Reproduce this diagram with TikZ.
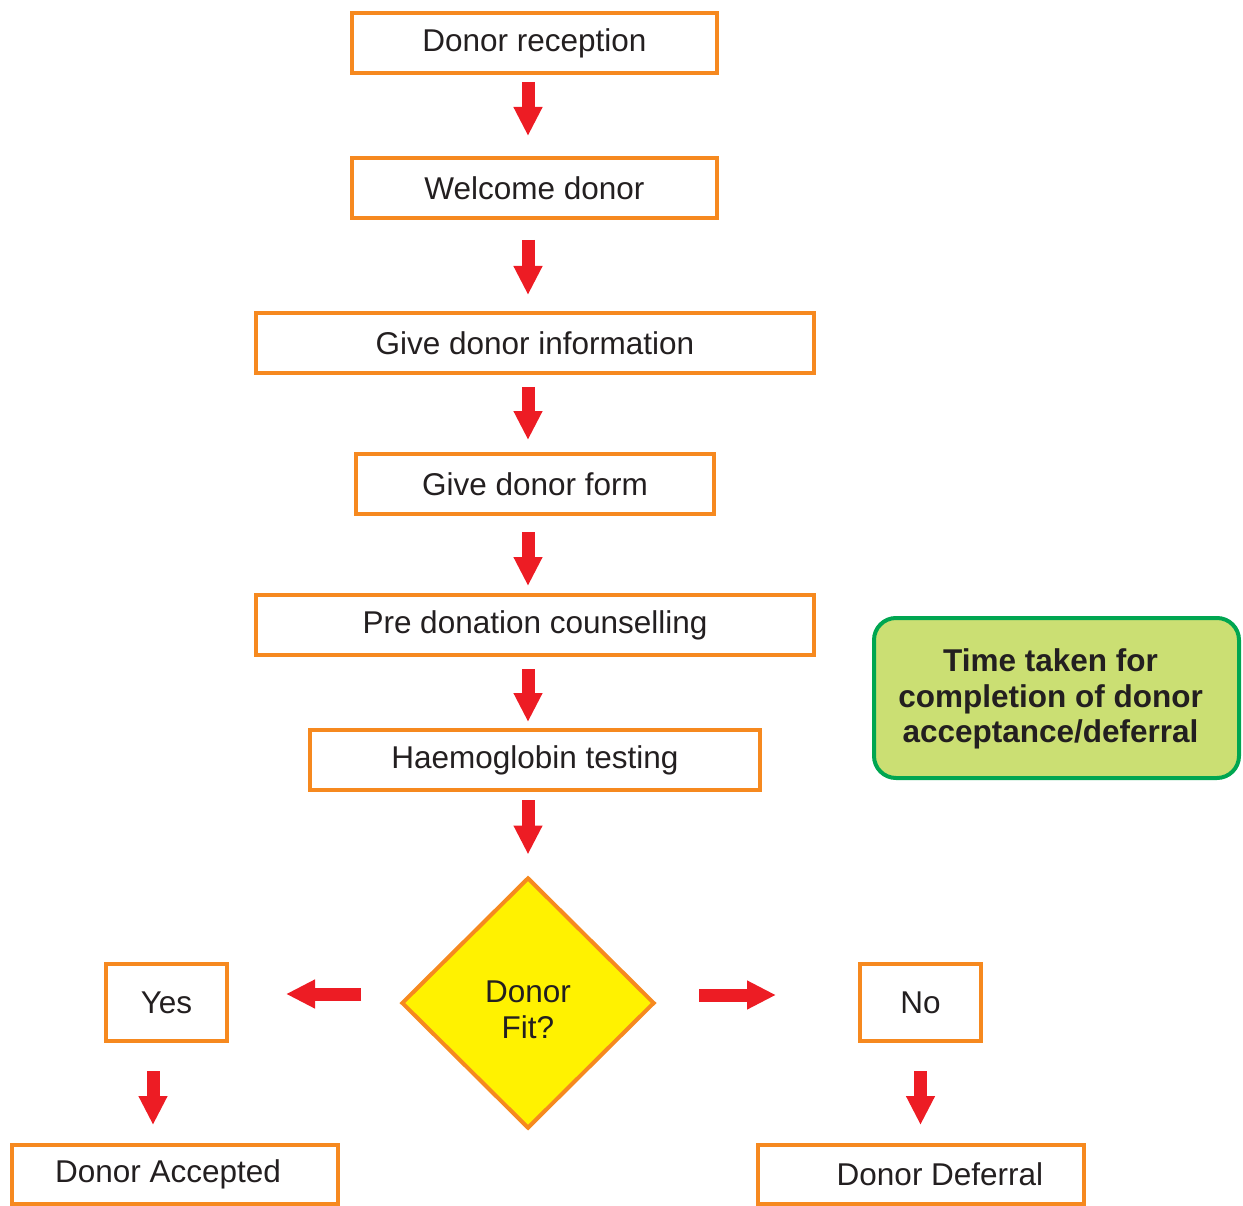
\documentclass[tikz,border=0pt]{standalone}
\usepackage{fontspec}
\setmainfont{Liberation Sans}
\usetikzlibrary{arrows.meta,shapes.geometric,calc}
\definecolor{borange}{HTML}{F6891F}
\definecolor{ared}{HTML}{ED1C24}
\definecolor{dyellow}{HTML}{FFF200}
\definecolor{ggreen}{HTML}{00A651}
\definecolor{gfill}{HTML}{CBDF73}
\definecolor{tink}{HTML}{231F20}
\begin{document}
\begin{tikzpicture}[x=1pt,y=-1pt,
  every node/.style={font=\fontsize{31.5}{35.5}\selectfont, text=tink},
  box/.style={draw=borange, line width=4pt, fill=white, inner sep=0pt, minimum height=60pt},
  flow/.style={draw=ared, line width=13pt, -{Triangle[width=27pt,length=29pt]}},
]
\useasboundingbox (0,0) rectangle (1243,1206);

\node[box, minimum width=365pt] (n1) at (534.5,43) {Donor reception};
\node[box, minimum width=365pt] (n2) at (534.5,188) {Welcome donor};
\node[box, minimum width=558pt] (n3) at (535,343) {Give donor information};
\node[box, minimum width=358pt] (n4) at (535,484) {Give donor form};
\node[box, minimum width=558pt] (n5) at (535,625) {Pre donation counselling};
\node[box, minimum width=450pt] (n6) at (535,760) {Haemoglobin testing};

\node[draw=borange, line width=4pt, fill=dyellow, shape=diamond, minimum width=253pt, minimum height=251pt, inner sep=0pt,
  label={[align=center, yshift=-7pt, inner sep=0pt]center:Donor\\Fit?}] (d) at (528,1003) {};

\node[box, minimum width=121pt, minimum height=77pt] (yes) at (166.5,1002.5) {Yes};
\node[box, minimum width=121pt, minimum height=77pt] (no) at (920.5,1002.5) {No};
\node[box, minimum width=326pt, minimum height=59pt] (acc) at (175,1174.5) {Donor Accepted\hspace*{14pt}};
\node[box, minimum width=326pt, minimum height=59pt] (def) at (921,1174.5) {\hspace*{38pt}Donor Deferral};

\node[draw=ggreen, line width=4pt, fill=gfill, rounded corners=22pt, minimum width=365pt, minimum height=160pt, inner sep=0pt,
  label={[align=center, xshift=-6pt, yshift=-1pt, inner sep=0pt, font=\bfseries\fontsize{31.5}{35.5}\selectfont]center:Time taken for\\completion of donor\\acceptance/deferral}] (g) at (1056.5,698) {};

\draw[flow, shorten <=7pt, shorten >=20pt] (n1.south -| d.center) -- (n2.north -| d.center);
\draw[flow, shorten <=20pt, shorten >=16pt] (n2.south -| d.center) -- (n3.north -| d.center);
\draw[flow, shorten <=12pt, shorten >=12pt] (n3.south -| d.center) -- (n4.north -| d.center);
\draw[flow, shorten <=16pt, shorten >=7pt] (n4.south -| d.center) -- (n5.north -| d.center);
\draw[flow, shorten <=12pt, shorten >=6pt] (n5.south -| d.center) -- (n6.north -| d.center);
\draw[flow, shorten <=8pt, shorten >=21pt] (n6.south -| d.center) -- (d.north);

\draw[flow, shorten <=38.5pt, shorten >=57pt] ([yshift=9pt]d.west) -- ([yshift=9pt]d.west -| yes.east);
\draw[flow, shorten <=42.5pt, shorten >=82pt] ([yshift=8pt]d.east) -- ([yshift=8pt]d.east -| no.west);

\draw[flow, shorten <=28pt, shorten >=18pt] ($(yes.south)+(-13.5,0)$) -- ($(yes.south |- acc.north)+(-13.5,0)$);
\draw[flow, shorten <=28pt, shorten >=18pt] (no.south) -- (no.south |- def.north);
\end{tikzpicture}
\end{document}
